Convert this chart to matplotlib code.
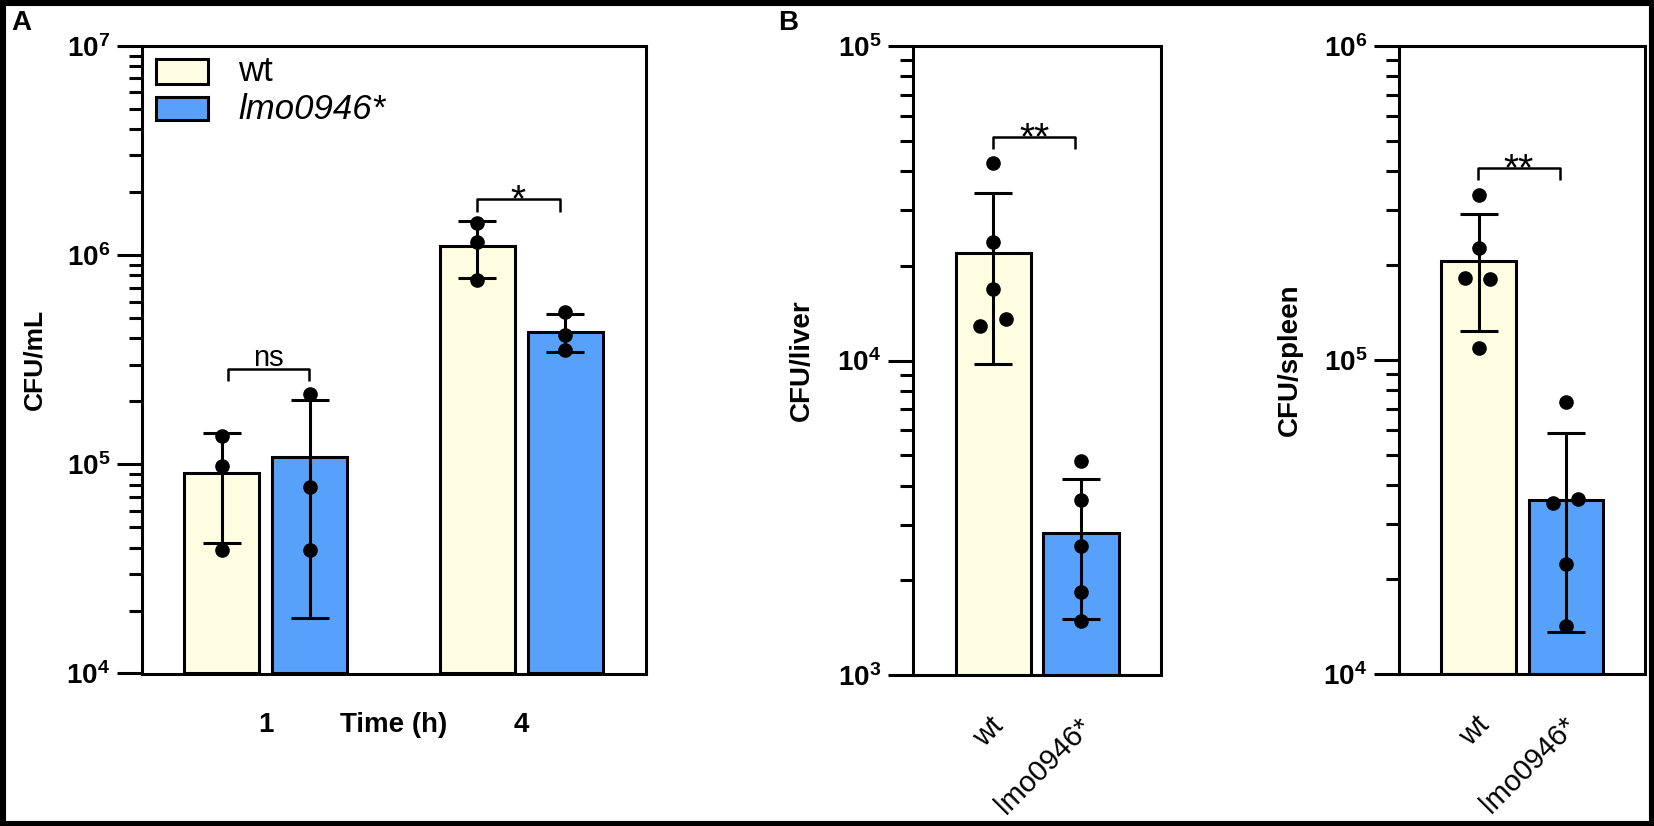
import numpy as np
import matplotlib
matplotlib.use("Agg")
import matplotlib.pyplot as plt
from matplotlib.patches import Rectangle
from matplotlib.transforms import ScaledTranslation
from matplotlib.ticker import LogLocator, NullFormatter

plt.rcParams["font.family"] = ["Liberation Sans", "DejaVu Sans"]
plt.rcParams["mathtext.fontset"] = "custom"
plt.rcParams["mathtext.rm"] = "Liberation Sans"
plt.rcParams["mathtext.bf"] = "Liberation Sans:bold"
plt.rcParams["mathtext.it"] = "Liberation Sans:italic"

# ---- data (CFU) ----
groups = ["wt", "lmo0946*"]
time_labels = ["1", "4"]

# panel A: culture, 1 h and 4 h
a_wt_mean = [9.1e4, 1.11e6]
a_wt_lo = [4.22e4, 7.82e5]
a_wt_hi = [1.41e5, 1.46e6]
a_wt_pts = [[1.37e5, 9.84e4, 3.91e4], [1.43e6, 1.16e6, 7.6e5]]
a_mut_mean = [1.09e5, 4.30e5]
a_mut_lo = [1.85e4, 3.43e5]
a_mut_hi = [2.04e5, 5.22e5]
a_mut_pts = [[2.17e5, 7.83e4, 3.91e4], [5.32e5, 4.17e5, 3.52e5]]

# panel B: liver
liver_mean = [2.19e4, 2.82e3]
liver_lo = [9.73e3, 1.51e3]
liver_hi = [3.42e4, 4.20e3]
liver_pts = [[4.26e4, 2.38e4, 1.69e4, 1.29e4, 1.36e4],
             [4.79e3, 3.59e3, 2.57e3, 1.83e3, 1.49e3]]

# panel B: spleen
spleen_mean = [2.06e5, 3.58e4]
spleen_lo = [1.24e5, 1.36e4]
spleen_hi = [2.92e5, 5.86e4]
spleen_pts = [[3.35e5, 2.27e5, 1.83e5, 1.81e5, 1.09e5],
              [7.33e4, 3.50e4, 3.61e4, 2.24e4, 1.42e4]]

# horizontal scatter of overlapping dots (layout only)
liver_jit = [[0, 0, 0, -0.15, 0.14], [0, 0, 0, 0, 0]]
spleen_jit = [[0, 0, -0.155, 0.135, 0], [0, -0.145, 0.14, 0, 0]]

C_WT = "#FFFDE2"
C_MUT = "#58A1FB"
LW = 2.2
W, H = 1654, 826

fig = plt.figure(figsize=(W / 100, H / 100), dpi=100)


def px_axes(left, top, right, bottom):
    return fig.add_axes([left / W, 1 - bottom / H, (right - left) / W, (bottom - top) / H])


def style_log(ax, e0, e1, fs=20):
    ax.set_yscale("log")
    ax.set_ylim(10.0 ** e0, 10.0 ** e1)
    ax.set_yticks([10.0 ** e for e in range(e0, e1 + 1)])
    ax.set_yticklabels([r"$\mathbf{10^{%d}}$" % e for e in range(e0, e1 + 1)], fontsize=fs)
    ax.yaxis.set_minor_locator(LogLocator(base=10, subs=np.arange(2, 10)))
    ax.yaxis.set_minor_formatter(NullFormatter())
    ax.tick_params(axis="y", which="major", length=18, width=LW, pad=5)
    ax.tick_params(axis="y", which="minor", length=9.5, width=LW)
    ax.tick_params(axis="x", length=0)
    for s in ax.spines.values():
        s.set_linewidth(LW)


def draw_bars(ax, x, mean, lo, hi, pts, jit, color, width, bottom):
    mean = np.asarray(mean)
    yerr = [mean - np.asarray(lo), np.asarray(hi) - mean]
    ax.bar(x, mean - bottom, width, bottom=bottom, color=color, edgecolor="black",
           linewidth=LW, zorder=2)
    ax.errorbar(x, mean, yerr=yerr, fmt="none", ecolor="black", elinewidth=LW,
                capsize=14, capthick=LW, zorder=3)
    for xi, p, j in zip(x, pts, jit):
        ax.plot(xi + np.asarray(j), p, "o", color="black", ms=9.5, zorder=4, clip_on=False)


def bracket(ax, x0, x1, y, ytip, txt, fs, dy):
    ax.plot([x0, x0, x1, x1], [ytip, y, y, ytip], color="black", lw=1.8,
            solid_capstyle="butt", zorder=5)
    ax.annotate(txt, xy=((x0 + x1) / 2, y), xytext=(0, dy), textcoords="offset points",
                ha="center", va="baseline", fontsize=fs)


# ---------------- panel A ----------------
axA = px_axes(142, 46, 646, 673.5)
style_log(axA, 4, 7)
xg = np.arange(len(time_labels))
off, bw = 0.1725, 0.294
draw_bars(axA, xg - off, a_wt_mean, a_wt_lo, a_wt_hi, a_wt_pts,
          [[0] * 3] * 2, C_WT, bw, 1e4)
draw_bars(axA, xg + off, a_mut_mean, a_mut_lo, a_mut_hi, a_mut_pts,
          [[0] * 3] * 2, C_MUT, bw, 1e4)
axA.set_xlim(-0.486, 1.490)
axA.set_xticks(xg)
axA.set_xticklabels(time_labels, fontsize=20, fontweight="bold")
axA.tick_params(axis="x", pad=37)
for lab in axA.get_xticklabels():
    lab.set_va("center")
axA.text(0.5, -51.5 / 627.5, "Time (h)", transform=axA.get_xaxis_transform(),
         ha="center", va="center", fontsize=20, fontweight="bold")
axA.set_ylabel("CFU/mL", fontsize=19, fontweight="bold")
axA.yaxis.set_label_coords(-0.214, 0.5)
axA.yaxis.label.set_va("center")

bracket(axA, -0.150, 0.170, 2.87e5, 2.51e5, "ns", 21, 2)
bracket(axA, 0.826, 1.153, 1.85e6, 1.61e6, "*", 28, -9)

# legend drawn by hand
for y0, h, c, lab, yb, st in [(0.9402, 0.0387, C_WT, "wt", 0.9447, "normal"),
                              (0.8817, 0.0378, C_MUT, "lmo0946*", 0.8837, "italic")]:
    axA.add_patch(Rectangle((0.0274, y0), 0.1032, h, transform=axA.transAxes,
                            facecolor=c, edgecolor="black", lw=LW, zorder=6))
    axA.text(0.191, yb, lab, transform=axA.transAxes, fontsize=25, style=st,
             va="baseline", ha="left")

# ---------------- panel B: liver ----------------
xb = np.arange(len(groups))
bwb = 0.857
axL = px_axes(913, 46, 1161, 675)
style_log(axL, 3, 5)
for i, c in enumerate([C_WT, C_MUT]):
    draw_bars(axL, [xb[i]], [liver_mean[i]], [liver_lo[i]], [liver_hi[i]],
              [liver_pts[i]], [liver_jit[i]], c, bwb, 1e3)
axL.set_xlim(-0.914, 1.91)
axL.set_ylabel("CFU/liver", fontsize=20, fontweight="bold")
axL.yaxis.set_label_coords(-0.448, 0.5)
axL.yaxis.label.set_va("center")
bracket(axL, 0.0, 0.93, 5.14e4, 4.72e4, "**", 28, -9)

# ---------------- panel B: spleen ----------------
axS = px_axes(1399, 46, 1645, 674)
style_log(axS, 4, 6)
for i, c in enumerate([C_WT, C_MUT]):
    draw_bars(axS, [xb[i]], [spleen_mean[i]], [spleen_lo[i]], [spleen_hi[i]],
              [spleen_pts[i]], [spleen_jit[i]], c, bwb, 1e4)
axS.set_xlim(-0.913, 1.905)
axS.set_ylabel("CFU/spleen", fontsize=20, fontweight="bold")
axS.yaxis.set_label_coords(-0.443, 0.5)
axS.yaxis.label.set_va("center")
bracket(axS, -0.011, 0.931, 4.09e5, 3.74e5, "**", 28, -9)

for ax in (axL, axS):
    ax.set_xticks(xb)
    ax.set_xticklabels(groups, fontsize=21, rotation=45, ha="right", va="center",
                       rotation_mode="anchor")
    ax.tick_params(axis="x", pad=34)
    for lab in ax.get_xticklabels():
        lab.set_transform(lab.get_transform() + ScaledTranslation(0.06, 0, fig.dpi_scale_trans))

# panel letters and outer frame
fig.text(21 / W, 1 - 23 / H, "A", fontsize=20, fontweight="bold", ha="center", va="center")
fig.text(788 / W, 1 - 23 / H, "B", fontsize=20, fontweight="bold", ha="center", va="center")
fig.add_artist(Rectangle((0, 0), 1, 1, transform=fig.transFigure, fill=False,
                         edgecolor="black", lw=8))

fig.savefig("out.png", dpi=100)
